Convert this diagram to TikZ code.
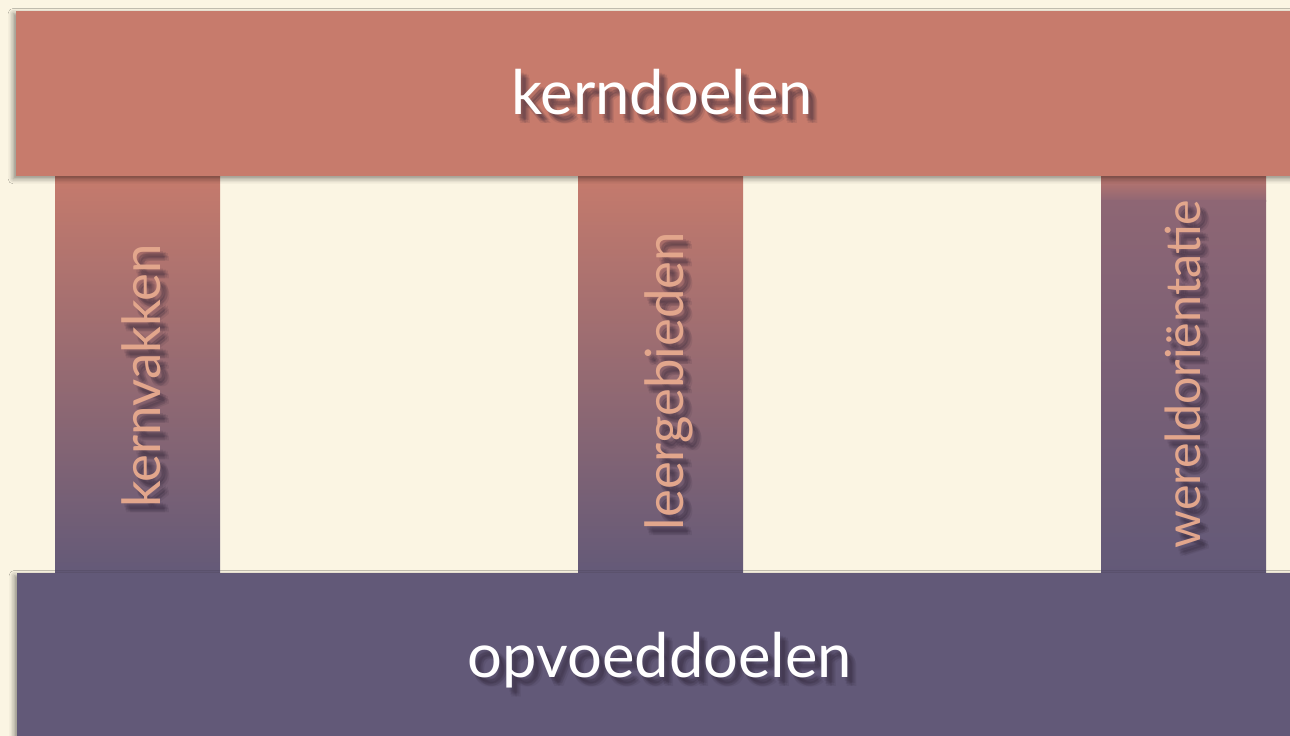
\documentclass[tikz,border=0pt]{standalone}
\usepackage{fontspec}
\setmainfont{Lato}
\usetikzlibrary{positioning,shadows.blur}

\definecolor{cream}{HTML}{FBF5E3}
\definecolor{kerncol}{HTML}{C77B6C}
\definecolor{opvcol}{HTML}{625978}
\definecolor{midcol}{HTML}{8E6674}
\definecolor{pillartxt}{HTML}{E2A68C}
\definecolor{shadowcol}{HTML}{2E2336}

\begin{document}
\begin{tikzpicture}[
x=0.02cm, y=-0.02cm,
bar/.style={blur shadow={shadow xshift=-1.5pt, shadow yshift=-1.5pt, shadow blur radius=3pt, shadow opacity=45}},
bigtext/.style={anchor=base, inner sep=0pt, text=white, font=\fontsize{35}{40}\selectfont},
pillartext/.style={anchor=base, inner sep=0pt, rotate=90, text=pillartxt, font=\fontsize{30}{34}\selectfont},
softshadow/.style={text=shadowcol, opacity=0.1}]
% Background
\fill[cream] (0,0) rectangle (1290,736);
\useasboundingbox (0,0) rectangle (1290,736);
% Pillars
\shade[top color=kerncol, bottom color=opvcol] (55,170) rectangle (220,580);
\shade[top color=kerncol, bottom color=opvcol] (578,170) rectangle (743,580);
\shade[top color=kerncol, bottom color=midcol] (1101,170) rectangle (1266,202);
\shade[top color=midcol, bottom color=opvcol] (1101,201) rectangle (1266,580);
% Bars
\fill[bar, kerncol] (16,11) rectangle (1310,176);
\fill[bar, opvcol] (17,573) rectangle (1310,760);
% Shadows of the labels
\foreach \dx/\dy [count=\i] in {3/4,5/6,7/8,4/7,6/5,5/9,8/6,9/9} {
  \node[bigtext, softshadow] (kd-sh-\i) at (662+\dx,115+\dy) {kerndoelen};
  \node[bigtext, softshadow] (od-sh-\i) at (660+\dx,677+\dy) {opvoeddoelen};
  \node[pillartext, softshadow] (kv-sh-\i) at (160+\dx,376+\dy) {kernvakken};
  \node[pillartext, softshadow] (lg-sh-\i) at (683+\dx,381+\dy) {leergebieden};
  \node[pillartext, softshadow, font=\fontsize{27.5}{32}\selectfont] (wo-sh-\i) at (1200+\dx,374+\dy) {wereldoriëntatie};
}
% Labels
\node[bigtext] (kerndoelen) at (662,115) {kerndoelen};
\node[bigtext] (opvoeddoelen) at (660,677) {opvoeddoelen};
\node[pillartext] (kernvakken) at (160,376) {kernvakken};
\node[pillartext] (leergebieden) at (683,381) {leergebieden};
\node[pillartext, font=\fontsize{27.5}{32}\selectfont] (wereldorientatie) at (1200,374) {wereldoriëntatie};
\end{tikzpicture}
\end{document}
